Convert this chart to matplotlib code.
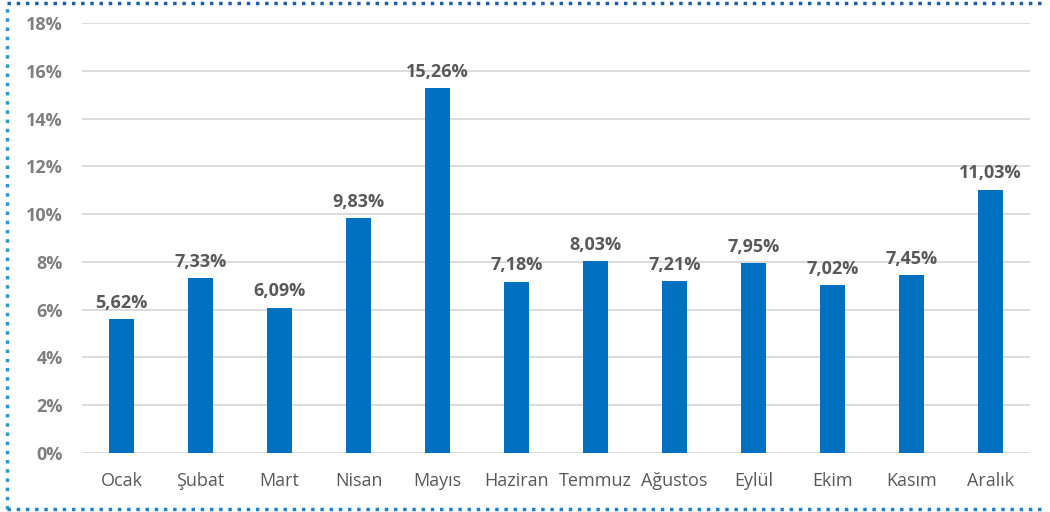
import matplotlib.pyplot as plt
from matplotlib.lines import Line2D

months = ['Ocak', 'Şubat', 'Mart', 'Nisan', 'Mayıs', 'Haziran', 'Temmuz',
          'Ağustos', 'Eylül', 'Ekim', 'Kasım', 'Aralık']
values = [5.62, 7.33, 6.09, 9.83, 15.26, 7.18, 8.03, 7.21, 7.95, 7.02, 7.45, 11.03]
yticks = [0, 2, 4, 6, 8, 10, 12, 14, 16, 18]

plt.rcParams['font.family'] = ['Open Sans', 'DejaVu Sans']

fig = plt.figure(figsize=(10.5, 5.12), dpi=100)
ax = fig.add_axes([0.0781, 0.1152, 0.9029, 0.8398])

x = range(len(months))
ax.bar(x, values, width=0.315, color='#0070C0', zorder=3)

for i, v in zip(x, values):
    ax.text(i, v + 0.3, f'{v:.2f}%'.replace('.', ','), ha='center', va='bottom',
            fontsize=13, fontweight='bold', color='#595959')

ax.set_ylim(0, 18)
ax.set_xlim(-0.5, len(months) - 0.5)
ax.set_yticks(yticks)
ax.set_yticklabels([f'{t}%' for t in yticks], fontsize=13, fontweight='bold', color='#7f7f7f')
ax.set_xticks(list(x))
ax.set_xticklabels(months, fontsize=13, color='#595959')
ax.tick_params(length=0)
ax.tick_params(axis='x', pad=14)
ax.tick_params(axis='y', pad=14)
ax.grid(axis='y', color='#d9d9d9', linewidth=1.3, zorder=0)
for s in ax.spines.values():
    s.set_visible(False)

# dotted frame around the chart
fig.add_artist(Line2D([0.007, 0.007], [0.006, 0.994], transform=fig.transFigure,
                      color='#1E9BE0', linestyle=':', linewidth=2.5))
fig.add_artist(Line2D([0.007, 0.995], [0.994, 0.994], transform=fig.transFigure,
                      color='#1F5FA8', linestyle=':', linewidth=2.5))
fig.add_artist(Line2D([0.007, 0.995], [0.006, 0.006], transform=fig.transFigure,
                      color='#1F80CC', linestyle=':', linewidth=2.5))

plt.savefig('out.png', dpi=100)
